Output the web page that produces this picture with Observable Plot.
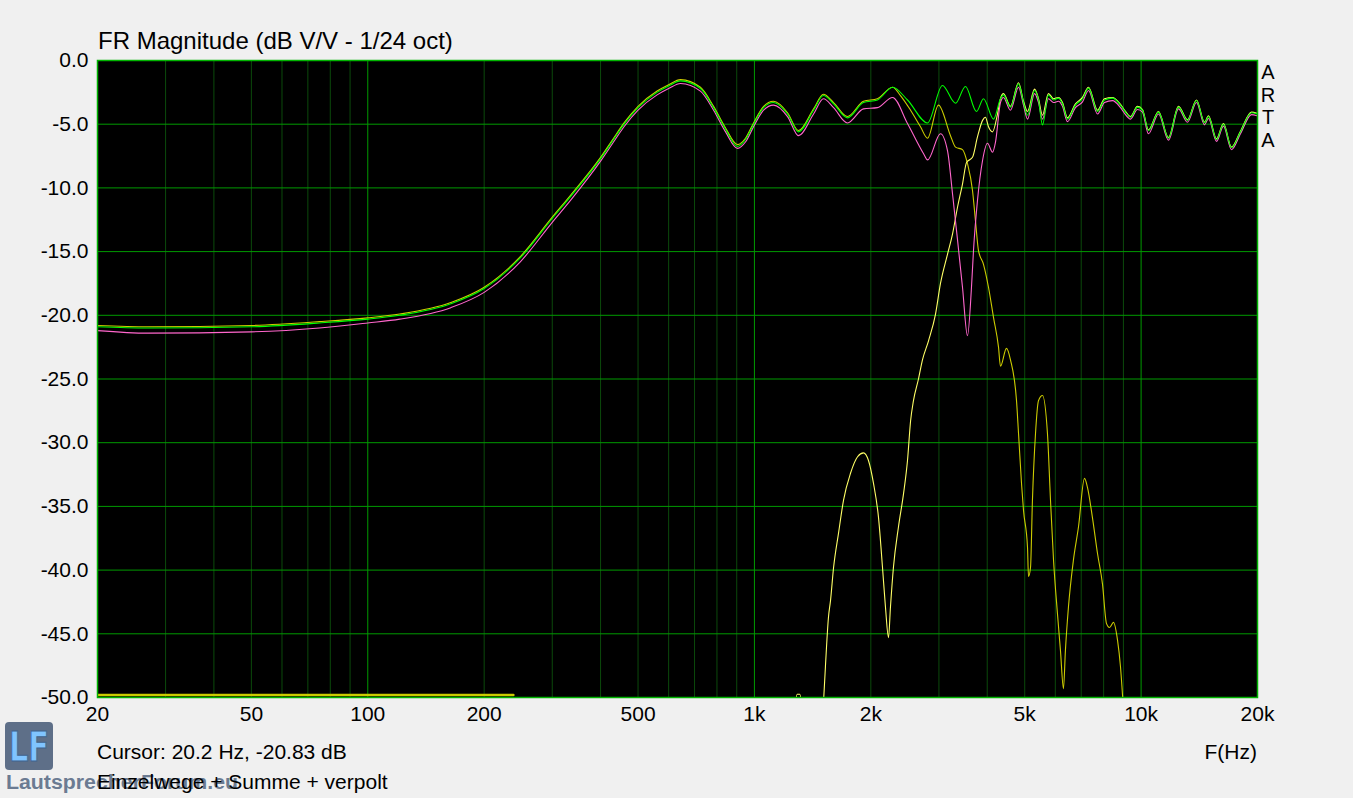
<!DOCTYPE html>
<html>
<head>
<meta charset="utf-8">
<script src="https://cdn.jsdelivr.net/npm/d3@7"></script>
<script src="https://cdn.jsdelivr.net/npm/@observablehq/plot@0.6"></script>
<style>
  html, body { margin: 0; padding: 0; background: #f0f0f0; }
  #wrap { position: relative; width: 1353px; height: 798px; overflow: hidden; background: #f0f0f0; }
  #wrap svg { position: absolute; left: 0; top: 0; }
  #overlay { pointer-events: none; }
</style>
</head>
<body>
<div id="wrap"></div>
<script>
// ---------- data (frequency in Hz, level in dB) ----------
const lowFreq = [20, 27, 50, 75, 100, 121, 164, 200, 248, 300, 334, 400, 430, 460, 500, 560, 600, 644, 725, 784, 842, 904, 948, 995, 1056, 1120, 1218, 1300, 1422, 1508, 1602, 1740];
const sumLow = [-20.9, -21.0, -20.9, -20.6, -20.3, -20.0, -19.1, -17.9, -15.5, -12.4, -10.7, -7.7, -6.3, -5.0, -3.7, -2.5, -2.0, -1.6, -2.2, -3.7, -5.4, -6.75, -6.2, -5.0, -3.7, -3.3, -4.2, -5.6, -3.9, -2.75, -3.4, -4.5];
const invLow = [-21.2, -21.4, -21.3, -21.0, -20.6, -20.3, -19.4, -18.2, -15.8, -12.7, -11.0, -7.9, -6.5, -5.2, -3.9, -2.7, -2.2, -1.8, -2.4, -3.9, -5.6, -6.9, -6.4, -5.2, -3.9, -3.5, -4.4, -5.9, -4.2, -3.0, -3.7, -4.9];
const wooferLow = [-20.8, -20.9, -20.8, -20.5, -20.2, -19.9, -19.0, -17.8, -15.4, -12.3, -10.6, -7.6, -6.2, -4.9, -3.6, -2.4, -1.9, -1.5, -2.1, -3.6, -5.3, -6.6, -6.1, -4.9, -3.6, -3.2, -4.1, -5.5, -3.8, -2.65, -3.3, -4.4];

const sumMidF = [1914, 2080, 2276, 2488, 2804, 3063, 3312, 3514, 3752, 3912, 4154, 4328];
const sumMid = [-3.3, -3.1, -2.1, -3.1, -4.9, -1.96, -3.35, -2.04, -4.0, -3.0, -4.6, -3.0];

const invMidF = [1914, 2080, 2276, 2488, 2736, 2804, 3028, 3158, 3254, 3352, 3452, 3556, 3642, 3686, 3774, 3890, 4006, 4128, 4202, 4328];
const invMid = [-3.8, -3.7, -2.9, -4.95, -7.3, -7.8, -5.75, -7.1, -10.5, -14.1, -17.8, -21.6, -17.8, -14.9, -11.0, -7.85, -6.5, -7.2, -6.4, -3.3];

const wooferMidF = [1914, 2080, 2276, 2386, 2534, 2688, 2804, 2992, 3214, 3312, 3452, 3556, 3664, 3730, 3796, 3912, 4030, 4154, 4278, 4328, 4486, 4594, 4762, 4820, 4906, 4964, 5084, 5114, 5176, 5236, 5332, 5428, 5558, 5726, 5830, 5936, 6076, 6186, 6298, 6372, 6488, 6684, 6888, 7138, 7266, 7486, 7714, 7946, 8138, 8284, 8484, 8690, 8846, 9004];
const wooferMid = [-3.2, -3.0, -2.1, -2.75, -3.9, -5.2, -6.1, -3.5, -5.9, -6.8, -7.0, -8.1, -10.2, -12.6, -14.9, -16.0, -17.8, -20.2, -22.5, -24.0, -22.6, -23.5, -26.7, -29.3, -33.2, -35.3, -38.2, -40.5, -39.8, -34.5, -29.3, -26.7, -26.3, -29.3, -34.5, -39.2, -43.4, -46.3, -49.3, -46.3, -42.9, -39.2, -36.6, -32.8, -33.5, -35.9, -38.7, -41.1, -44.2, -44.5, -44.1, -45.5, -47.6, -51];

const tweeterMidF = [1508, 1526, 1554, 1573, 1602, 1650, 1700, 1772, 1848, 1914, 1972, 2032, 2094, 2144, 2182, 2222, 2248, 2288, 2358, 2430, 2488, 2534, 2578, 2656, 2720, 2820, 2940, 3028, 3158, 3254, 3352, 3452, 3536, 3664, 3774, 3890, 3958, 4030, 4128, 4252, 4328];
const tweeterMid = [-50.5, -47.6, -43.7, -42.4, -39.8, -37.1, -34.5, -32.4, -31.1, -30.8, -31.4, -33.2, -35.9, -39.8, -42.9, -45.3, -42.9, -39.8, -36.6, -34.0, -31.4, -28.3, -26.7, -25.0, -23.5, -22.0, -19.9, -17.5, -15.2, -13.6, -11.5, -9.7, -8.0, -7.6, -6.0, -4.7, -4.45, -5.2, -5.6, -4.2, -3.0];
const tweeterBumpF = [1270, 1290, 1310, 1330];
const tweeterBump = [-51, -49.75, -49.75, -51];
const floorF = [20, 238];
const floorDb = [-49.8, -49.8];

const highFreq = [4406, 4594, 4820, 4964, 5084, 5302, 5428, 5558, 5760, 5936, 6114, 6262, 6450, 6764, 7054, 7312, 7714, 8042, 8434, 8846, 9112, 9388, 9786, 10082, 10448, 11092, 11772, 12494, 13180, 13908, 14586, 14938, 15668, 16332, 17128, 18072, 19300, 20000];
const sumHigh = [-2.7, -3.66, -1.83, -3.3, -4.3, -2.35, -3.1, -5.05, -2.7, -3.1, -2.95, -3.4, -4.6, -3.5, -3.0, -2.17, -4.0, -3.1, -2.95, -3.5, -4.05, -4.45, -3.66, -3.9, -5.5, -4.05, -6.1, -3.66, -4.7, -3.14, -4.9, -4.4, -6.2, -5.0, -6.85, -5.6, -4.1, -4.2];
const tweeterHigh = [-2.6, -3.6, -1.75, -3.2, -4.0, -2.25, -3.0, -4.3, -2.6, -3.0, -2.9, -3.3, -4.5, -3.4, -2.9, -2.1, -3.9, -3.0, -2.9, -3.45, -4.0, -4.4, -3.6, -3.85, -5.45, -4.0, -6.05, -3.6, -4.65, -3.1, -4.85, -4.35, -6.15, -4.95, -6.8, -5.55, -4.05, -4.15];
const invHigh = [-2.9, -3.9, -2.1, -3.5, -4.6, -2.6, -3.3, -4.6, -3.0, -3.3, -3.2, -3.6, -4.8, -3.7, -3.25, -2.35, -4.2, -3.3, -3.15, -3.7, -4.25, -4.6, -3.85, -4.05, -5.75, -4.2, -6.25, -3.8, -4.85, -3.3, -5.05, -4.55, -6.35, -5.15, -7.0, -5.75, -4.25, -4.35];

const xTicks = [20, 50, 100, 200, 500, 1000, 2000, 5000, 10000, 20000];
const xTickLabels = ["20", "50", "100", "200", "500", "1k", "2k", "5k", "10k", "20k"];
const yTicks = [0, -5, -10, -15, -20, -25, -30, -35, -40, -45, -50];
const minorGrid = [30, 40, 50, 60, 70, 80, 90, 200, 300, 400, 500, 600, 700, 800, 900, 2000, 3000, 4000, 5000, 6000, 7000, 8000, 9000];
const majorGrid = [100, 1000, 10000];
const hGrid = [-5, -10, -15, -20, -25, -30, -35, -40, -45];

const colors = { sum: "#00ff00", inv: "#ff66cc", woofer: "#cccc00", tweeter: "#ffff66" };

// ---------- build rows ----------
const rows = (...pairs) => {
  const out = [];
  for (let k = 0; k < pairs.length; k += 2) {
    const f = pairs[k], d = pairs[k + 1];
    for (let i = 0; i < f.length; i++) out.push({ f: f[i], db: d[i] });
  }
  return out;
};
const sumData = rows(lowFreq, sumLow, sumMidF, sumMid, highFreq, sumHigh);
const invData = rows(lowFreq, invLow, invMidF, invMid, highFreq, invHigh);
const wooferData = rows(lowFreq, wooferLow, wooferMidF, wooferMid);
const tweeterData = rows(tweeterMidF, tweeterMid, highFreq, tweeterHigh);
const bumpData = rows(tweeterBumpF, tweeterBump);
const floorData = rows(floorF, floorDb);
const xLabelData = xTicks.map((v, i) => ({ v, label: xTickLabels[i] }));

const lineOpts = (stroke) => ({ x: "f", y: "db", stroke, strokeWidth: 1.1, clip: true, curve: "monotone-x" });

const chart = Plot.plot({
  width: 1353,
  height: 798,
  marginTop: 60,
  marginLeft: 97,
  marginRight: 96,
  marginBottom: 101,
  style: { background: "transparent", fontFamily: "Liberation Sans, Arial, sans-serif", fontSize: "21px", color: "black" },
  x: { type: "log", domain: [20, 20000], axis: null },
  y: { domain: [-50, 0], ticks: yTicks, tickFormat: (d) => d.toFixed(1), tickSize: 0, tickPadding: 9, label: null },
  marks: [
    Plot.frame({ fill: "black" }),
    Plot.ruleX(minorGrid, { stroke: "#0b4a0b", strokeWidth: 1 }),
    Plot.ruleX(majorGrid, { stroke: "#009a00", strokeWidth: 1 }),
    Plot.ruleY(hGrid, { stroke: "#009a00", strokeWidth: 1 }),
    Plot.line(floorData, { x: "f", y: "db", stroke: colors.woofer, strokeWidth: 2.5, clip: true }),
    Plot.line(wooferData, lineOpts(colors.woofer)),
    Plot.line(bumpData, lineOpts(colors.tweeter)),
    Plot.line(tweeterData, lineOpts(colors.tweeter)),
    Plot.line(invData, lineOpts(colors.inv)),
    Plot.line(sumData, lineOpts(colors.sum)),
    Plot.frame({ stroke: "#00b400", strokeWidth: 1.5 }),
    Plot.text(xLabelData, { x: "v", text: "label", frameAnchor: "bottom", dy: 23, fontSize: 21, fill: "black" })
  ]
});

const wrap = document.getElementById("wrap");
wrap.appendChild(chart);

// ---------- overlay texts ----------
const ns = "http://www.w3.org/2000/svg";
const ov = document.createElementNS(ns, "svg");
ov.setAttribute("id", "overlay");
ov.setAttribute("width", 1353);
ov.setAttribute("height", 798);
ov.style.fontFamily = "Liberation Sans, Arial, sans-serif";
function txt(s, x, y, opts = {}) {
  const t = document.createElementNS(ns, "text");
  t.setAttribute("x", x);
  t.setAttribute("y", y);
  t.setAttribute("font-size", opts.size || 21);
  t.setAttribute("fill", opts.fill || "#000");
  if (opts.anchor) t.setAttribute("text-anchor", opts.anchor);
  if (opts.weight) t.setAttribute("font-weight", opts.weight);
  if (opts.length) { t.setAttribute("textLength", opts.length); t.setAttribute("lengthAdjust", "spacingAndGlyphs"); }
  if (opts.family) t.setAttribute("font-family", opts.family);
  if (opts.stroke) { t.setAttribute("stroke", opts.stroke); t.setAttribute("stroke-width", opts.strokeWidth || 1); }
  if (opts.opacity) t.setAttribute("opacity", opts.opacity);
  t.textContent = s;
  ov.appendChild(t);
  return t;
}
// logo
const logo = document.createElementNS(ns, "rect");
logo.setAttribute("x", 5); logo.setAttribute("y", 722);
logo.setAttribute("width", 48); logo.setAttribute("height", 48);
logo.setAttribute("rx", 4); logo.setAttribute("fill", "#5e6f88");
ov.appendChild(logo);
txt("LF", 9, 761, { size: 40, weight: "bold", fill: "#80c4ff", stroke: "#3f6390", strokeWidth: 1, family: "DejaVu Sans, sans-serif", length: 40 });
txt("LautsprecherForum.eu", 6, 789, { size: 20, weight: "bold", fill: "#6b7b92", length: 232 });

txt("FR Magnitude (dB V/V - 1/24 oct)", 98, 49, { size: 24 });
txt("Cursor: 20.2 Hz, -20.83 dB", 97, 759, { size: 21 });
txt("Einzelwege + Summe + verpolt", 97, 789, { size: 21 });
txt("F(Hz)", 1257, 759, { size: 21, anchor: "end" });
["A", "R", "T", "A"].forEach((c, i) => txt(c, 1268, 79 + i * 22.5, { size: 20, anchor: "middle" }));
wrap.appendChild(ov);
</script>
</body>
</html>
